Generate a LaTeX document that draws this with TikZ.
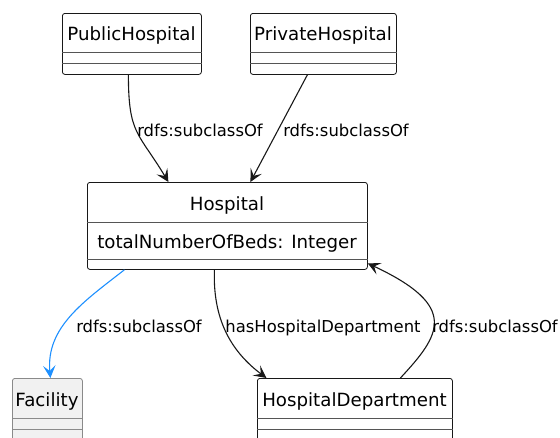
\documentclass[tikz,border=0pt]{standalone}
\usepackage{fontspec}
\setmainfont{DejaVu Sans}
\usetikzlibrary{arrows.meta}
\definecolor{umldraw}{HTML}{181818}
\definecolor{umlsep}{HTML}{555555}
\definecolor{facfill}{HTML}{F1F1F1}
\definecolor{facdraw}{HTML}{8A8A8A}
\definecolor{subblue}{HTML}{1E90FF}

\begin{document}
\begin{tikzpicture}[x=1pt, y=-1pt,
    classbox/.style={draw=umldraw, line width=0.8pt, rounded corners=2.5pt, fill=white,
      anchor=north west, inner sep=0pt},
    sepline/.style={draw=umlsep, line width=0.9pt},
    classname/.style={font=\fontsize{18.2}{21}\selectfont, anchor=base, inner sep=0pt},
    lbl/.style={font=\fontsize{16.4}{19}\selectfont, anchor=base, inner sep=0pt},
    link/.style={draw=umldraw, line width=1.1pt, -{Stealth[length=12.5pt, width=12.5pt, inset=5.5pt]}}]
    \useasboundingbox (0,0) rectangle (560,437);
    \clip (0,0) rectangle (560,437);

    % Top classes
    \node[classbox, minimum width=139pt, minimum height=61pt] (pub) at (62,13) {};
    \node[classname] (pubname) at (131.5,40) {PublicHospital};
    \draw[sepline] (pub.west |- 0,52) -- (pub.east |- 0,52);
    \draw[sepline] (pub.west |- 0,63) -- (pub.east |- 0,63);

    \node[classbox, minimum width=146pt, minimum height=61pt] (priv) at (250,13) {};
    \node[classname] (privname) at (323,40) {PrivateHospital};
    \draw[sepline] (priv.west |- 0,52) -- (priv.east |- 0,52);
    \draw[sepline] (priv.west |- 0,63) -- (priv.east |- 0,63);

    % Hospital
    \node[classbox, minimum width=280pt, minimum height=87pt] (hosp) at (87,182) {};
    \node[classname] (hospname) at (227,210) {Hospital};
    \node[classname] (hospattr) at (227,248) {totalNumberOfBeds: Integer};
    \draw[sepline] (hosp.west |- 0,222) -- (hosp.east |- 0,222);
    \draw[sepline] (hosp.west |- 0,259) -- (hosp.east |- 0,259);

    % Bottom classes
    \node[classbox, draw=facdraw, fill=facfill, minimum width=70pt, minimum height=62pt] (fac) at (12,378) {};
    \node[classname] (facname) at (47,406) {Facility};
    \draw[sepline, draw=facdraw] (fac.west |- 0,418) -- (fac.east |- 0,418);
    \draw[sepline, draw=facdraw] (fac.west |- 0,429) -- (fac.east |- 0,429);

    \node[classbox, minimum width=195pt, minimum height=62pt] (dept) at (257,378) {};
    \node[classname] (deptname) at (354.5,406) {HospitalDepartment};
    \draw[sepline] (dept.west |- 0,418) -- (dept.east |- 0,418);
    \draw[sepline] (dept.west |- 0,429) -- (dept.east |- 0,429);

    % Links
    \draw[link] ([xshift=-3.5pt]pub.south) .. controls +(0,60) and +(-30,-50) .. ([xshift=-59pt]hosp.north);
    \draw[link] ([xshift=-16pt]priv.south) -- ([xshift=23pt]hosp.north);
    \draw[link, draw=subblue] ([xshift=-103pt]hosp.south) to[out=-142, in=95] ([xshift=3pt]fac.north);
    \draw[link] ([xshift=-13pt]hosp.south) to[out=-92, in=143] ([xshift=-88.5pt]dept.north);
    \draw[link] ([xshift=45.5pt]dept.north) .. controls +(40,-43) and +(92,43) .. ([yshift=-37.5pt]hosp.east);

    % Link labels
    \node[lbl] (l1) at (200,136) {rdfs:subclassOf};
    \node[lbl] (l2) at (346,136) {rdfs:subclassOf};
    \node[lbl] (l3) at (139,332) {rdfs:subclassOf};
    \node[lbl] (l4) at (323,332) {hasHospitalDepartment};
    \node[lbl] (l5) at (495,332) {rdfs:subclassOf};
\end{tikzpicture}
\end{document}
